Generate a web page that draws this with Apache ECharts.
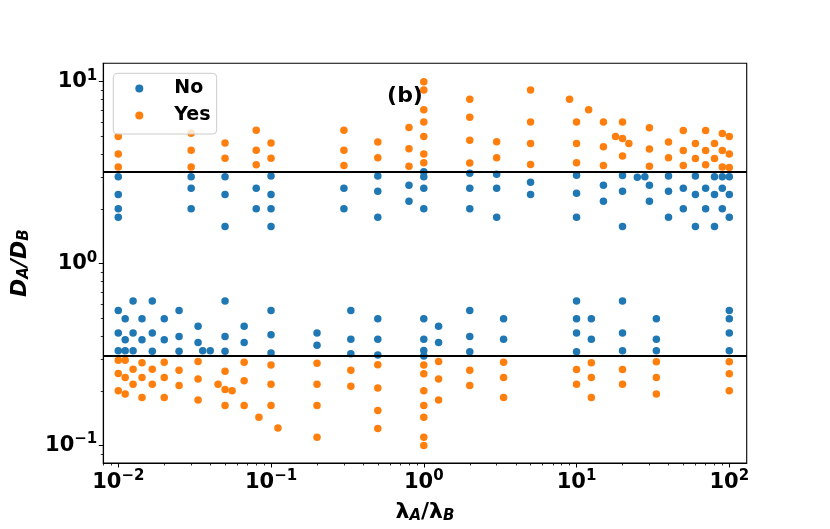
<!DOCTYPE html>
<html>
<head>
<meta charset="utf-8">
<script src="https://cdn.jsdelivr.net/npm/echarts@6/dist/echarts.min.js"></script>
<style>
  html, body { margin: 0; padding: 0; background: #fff; }
  #chart { width: 830px; height: 529px; }
</style>
</head>
<body>
<div id="chart"></div>
<script>
// points, [lambdaA/lambdaB, DA/DB]
const noUpper = [
    [0.01, 3.0], [0.01, 2.4], [0.01, 2.0], [0.01, 1.8],
    [0.03, 3.0], [0.03, 2.6], [0.03, 2.0],
    [0.05, 3.0], [0.05, 2.4], [0.05, 1.6],
    [0.08, 2.6], [0.08, 2.0],
    [0.1, 3.03], [0.1, 2.4], [0.1, 2.0], [0.1, 1.6],
    [0.3, 2.6], [0.3, 2.0],
    [0.5, 3.03], [0.5, 2.5], [0.5, 1.8],
    [0.8, 2.7], [0.8, 2.2],
    [1, 3.2], [1, 3.0], [1, 2.6], [1, 2.0],
    [2, 3.14], [2, 2.6], [2, 2.0],
    [3, 3.1], [3, 2.6], [3, 1.8],
    [5, 2.8], [5, 2.4],
    [10, 3.06], [10, 2.44], [10, 1.8],
    [15, 2.7], [15, 2.2],
    [20, 3.05], [20, 2.5], [20, 1.6],
    [25, 2.98], [28, 3.0],
    [30, 2.7], [30, 2.2],
    [40, 3.03], [40, 2.5], [40, 1.8],
    [50, 2.6], [50, 2.0],
    [60, 3.03], [60, 2.4], [60, 1.6],
    [70, 2.6], [70, 2.0],
    [80, 3.0], [80, 2.4], [80, 1.6],
    [90, 3.0], [90, 2.6], [90, 2.0],
    [100, 3.0], [100, 2.4], [100, 1.8]
];
const noLower = [
    [0.01, 0.553], [0.01, 0.416], [0.01, 0.332],
    [0.0111, 0.498], [0.0111, 0.382], [0.0111, 0.332],
    [0.0125, 0.623], [0.0125, 0.416], [0.0125, 0.332],
    [0.0143, 0.498], [0.0143, 0.382],
    [0.0167, 0.623], [0.0167, 0.416], [0.0167, 0.33],
    [0.02, 0.498], [0.02, 0.382],
    [0.025, 0.553], [0.025, 0.398], [0.025, 0.33],
    [0.0333, 0.453], [0.0333, 0.368],
    [0.0357, 0.332], [0.04, 0.332],
    [0.05, 0.623], [0.05, 0.398], [0.05, 0.33],
    [0.0667, 0.453], [0.0667, 0.368],
    [0.1, 0.553], [0.1, 0.407], [0.1, 0.323],
    [0.2, 0.416], [0.2, 0.356],
    [0.333, 0.553], [0.333, 0.384], [0.333, 0.32],
    [0.5, 0.498], [0.5, 0.384], [0.5, 0.315],
    [1, 0.498], [1, 0.384], [1, 0.333], [1, 0.311],
    [1.25, 0.453], [1.25, 0.368],
    [2, 0.553], [2, 0.398], [2, 0.328],
    [3.33, 0.498], [3.33, 0.384],
    [10, 0.623], [10, 0.498], [10, 0.416], [10, 0.328],
    [12.5, 0.498], [12.5, 0.384],
    [20, 0.623], [20, 0.416], [20, 0.332],
    [33.3, 0.498], [33.3, 0.384], [33.3, 0.332],
    [100, 0.553], [100, 0.498], [100, 0.416], [100, 0.332]
];
const yesUpper = [
    [0.01, 5.0], [0.01, 4.0], [0.01, 3.4],
    [0.03, 5.2], [0.03, 4.2], [0.03, 3.4],
    [0.05, 4.6], [0.05, 3.8],
    [0.08, 5.4], [0.08, 4.2], [0.08, 3.5],
    [0.1, 4.6], [0.1, 3.8],
    [0.3, 5.4], [0.3, 4.2], [0.3, 3.46],
    [0.5, 4.66], [0.5, 3.82],
    [0.8, 5.6], [0.8, 4.28], [0.8, 3.43],
    [1, 10], [1, 9], [1, 7], [1, 6], [1, 5], [1, 4], [1, 3.59],
    [2, 8], [2, 6.38], [2, 4.77], [2, 3.57],
    [3, 4.67], [3, 3.82],
    [5, 9], [5, 6], [5, 4.58], [5, 3.51],
    [9, 8],
    [10, 6], [10, 4.58], [10, 3.59],
    [12, 7],
    [15, 6], [15, 4.39], [15, 3.46],
    [18, 5],
    [20, 6], [20, 4.88], [20, 3.9],
    [22, 4.58],
    [30, 5.59], [30, 4.27], [30, 3.43],
    [40, 4.66], [40, 3.82],
    [50, 5.39], [50, 4.18], [50, 3.46],
    [60, 4.58], [60, 3.78],
    [70, 5.39], [70, 4.18], [70, 3.5],
    [80, 4.58], [80, 3.78],
    [90, 5.19], [90, 4.18], [90, 3.4],
    [100, 5.0], [100, 4.0], [100, 3.38]
];
const yesLower = [
    [0.01, 0.294], [0.01, 0.249], [0.01, 0.2],
    [0.0111, 0.294], [0.0111, 0.237], [0.0111, 0.192],
    [0.0125, 0.263], [0.0125, 0.217],
    [0.0143, 0.285], [0.0143, 0.237], [0.0143, 0.184],
    [0.0167, 0.263], [0.0167, 0.217],
    [0.02, 0.287], [0.02, 0.237], [0.02, 0.184],
    [0.025, 0.259], [0.025, 0.214],
    [0.0333, 0.29], [0.0333, 0.232], [0.0333, 0.178],
    [0.045, 0.217],
    [0.05, 0.256], [0.05, 0.203], [0.05, 0.166],
    [0.0556, 0.2],
    [0.0667, 0.287], [0.0667, 0.227], [0.0667, 0.166],
    [0.0833, 0.143],
    [0.1, 0.277], [0.1, 0.217], [0.1, 0.166],
    [0.111, 0.125],
    [0.2, 0.283], [0.2, 0.217], [0.2, 0.166], [0.2, 0.111],
    [0.333, 0.259], [0.333, 0.212],
    [0.5, 0.278], [0.5, 0.207], [0.5, 0.156], [0.5, 0.124],
    [1, 0.277], [1, 0.248], [1, 0.2], [1, 0.166], [1, 0.143], [1, 0.111], [1, 0.1],
    [1.25, 0.29], [1.25, 0.232], [1.25, 0.178],
    [2, 0.259], [2, 0.214],
    [3.33, 0.287], [3.33, 0.237], [3.33, 0.184],
    [10, 0.262], [10, 0.217],
    [12.5, 0.285], [12.5, 0.237], [12.5, 0.184],
    [20, 0.262], [20, 0.217],
    [33.3, 0.289], [33.3, 0.237], [33.3, 0.192],
    [100, 0.289], [100, 0.248], [100, 0.2]
];
const thresholds = [3.2, 0.31];

const xMajor = [0.01, 0.1, 1, 10, 100];
const yMajor = [0.1, 1, 10];
const xRange = [0.00798, 130];
const yRange = [0.0802, 12.62];

function minorTicks(lo, hi) {
    let out = [];
    for (let e = -3; e <= 2; e++) {
        for (let k = 2; k <= 9; k++) {
            let v = k * Math.pow(10, e);
            if (v > lo && v < hi) out.push(v);
        }
    }
    return out;
}

function powLabel(v) {
    let e = Math.round(Math.log10(v));
    return '{b|10}{s|' + (e < 0 ? '\u2212' + (-e) : e) + '}';
}

const tickRich = {
    b: { fontSize: 21, fontWeight: 'bold', color: '#000', fontFamily: 'DejaVu Sans' },
    s: { fontSize: 15, fontWeight: 'bold', color: '#000', fontFamily: 'DejaVu Sans', padding: [0, 0, 12, 0] }
};

let chartDom = document.getElementById('chart');
let myChart = echarts.init(chartDom);

let option = {
    animation: false,
    textStyle: { fontFamily: 'DejaVu Sans' },
    grid: {
        left: 103.3, right: 83.3, top: 63.3, bottom: 59,
        show: true, borderColor: '#000', borderWidth: 1.1, backgroundColor: 'transparent'
    },
    legend: {
        data: ['No', 'Yes'],
        orient: 'vertical',
        left: 135.3, top: 79,
        padding: 0,
        itemWidth: 8, itemHeight: 8, itemGap: 8,
        icon: 'circle',
        z: 12,
        formatter: function (name) { return '{t|' + name + '}'; },
        textStyle: {
            rich: {
                t: { fontSize: 19, fontWeight: 'bold', color: '#000', lineHeight: 20, padding: [0, 0, 0, 26] }
            }
        }
    },
    graphic: [{
        type: 'rect',
        z: 11,
        shape: { x: 113.3, y: 73.3, width: 103.4, height: 60.7, r: 4 },
        style: { fill: 'rgba(255,255,255,0.8)', stroke: '#cccccc', lineWidth: 1 }
    }, {
        type: 'text',
        z: 11,
        x: 405, y: 96,
        style: {
            text: '(b)', font: 'bold 22px "DejaVu Sans"', fill: '#000',
            align: 'center', verticalAlign: 'middle'
        }
    }],
    xAxis: [{
        type: 'log', logBase: 10, min: xRange[0], max: xRange[1],
        name: '{l|\u03bb}{s|A}{l|/\u03bb}{s|B}',
        nameLocation: 'middle', nameGap: 38,
        nameTextStyle: {
            rich: {
                l: { fontSize: 22, fontWeight: 'bold', color: '#000', fontFamily: 'DejaVu Sans' },
                s: { fontSize: 15, fontWeight: 'bold', fontStyle: 'italic', color: '#000', fontFamily: 'DejaVu Sans', padding: [8, 0, 0, 0] }
            }
        },
        axisLine: { lineStyle: { color: '#000', width: 1.1 } },
        axisTick: { customValues: xMajor, length: 4.5, lineStyle: { color: '#000', width: 1 } },
        axisLabel: { customValues: xMajor, margin: 6, formatter: powLabel, rich: tickRich },
        splitLine: { show: false }
    }, {
        type: 'log', logBase: 10, min: xRange[0], max: xRange[1],
        position: 'bottom',
        axisLine: { show: false },
        axisTick: { customValues: minorTicks(xRange[0], xRange[1]), length: 2.5, lineStyle: { color: '#000', width: 0.8 } },
        axisLabel: { show: false },
        splitLine: { show: false }
    }],
    yAxis: [{
        type: 'log', logBase: 10, min: yRange[0], max: yRange[1],
        name: '{d|D}{s|A}{d|/D}{s|B}',
        nameLocation: 'middle', nameGap: 72,
        nameTextStyle: {
            rich: {
                d: { fontSize: 22, fontWeight: 'bold', fontStyle: 'italic', color: '#000', fontFamily: 'DejaVu Sans' },
                s: { fontSize: 15, fontWeight: 'bold', fontStyle: 'italic', color: '#000', fontFamily: 'DejaVu Sans', padding: [8, 0, 0, 0] }
            }
        },
        axisLine: { lineStyle: { color: '#000', width: 1.1 } },
        axisTick: { customValues: yMajor, length: 4.5, lineStyle: { color: '#000', width: 1 } },
        axisLabel: { customValues: yMajor, margin: 6, formatter: powLabel, rich: tickRich },
        splitLine: { show: false }
    }, {
        type: 'log', logBase: 10, min: yRange[0], max: yRange[1],
        position: 'left',
        axisLine: { show: false },
        axisTick: { customValues: minorTicks(yRange[0], yRange[1]), length: 2.5, lineStyle: { color: '#000', width: 0.8 } },
        axisLabel: { show: false },
        splitLine: { show: false }
    }],
    series: [{
        name: 'No',
        type: 'scatter',
        symbolSize: 7.5,
        itemStyle: { color: '#1f77b4', opacity: 1 },
        data: noUpper.concat(noLower)
    }, {
        name: 'Yes',
        type: 'scatter',
        symbolSize: 7.5,
        itemStyle: { color: '#ff7f0e', opacity: 1 },
        data: yesUpper.concat(yesLower)
    }, {
        name: 'lines',
        type: 'line',
        data: [],
        z: 5,
        markLine: {
            silent: true,
            symbol: 'none',
            label: { show: false },
            lineStyle: { color: '#000', width: 2, type: 'solid' },
            data: thresholds.map(function (v) { return { yAxis: v }; })
        }
    }]
};
option && myChart.setOption(option);
</script>
</body>
</html>
